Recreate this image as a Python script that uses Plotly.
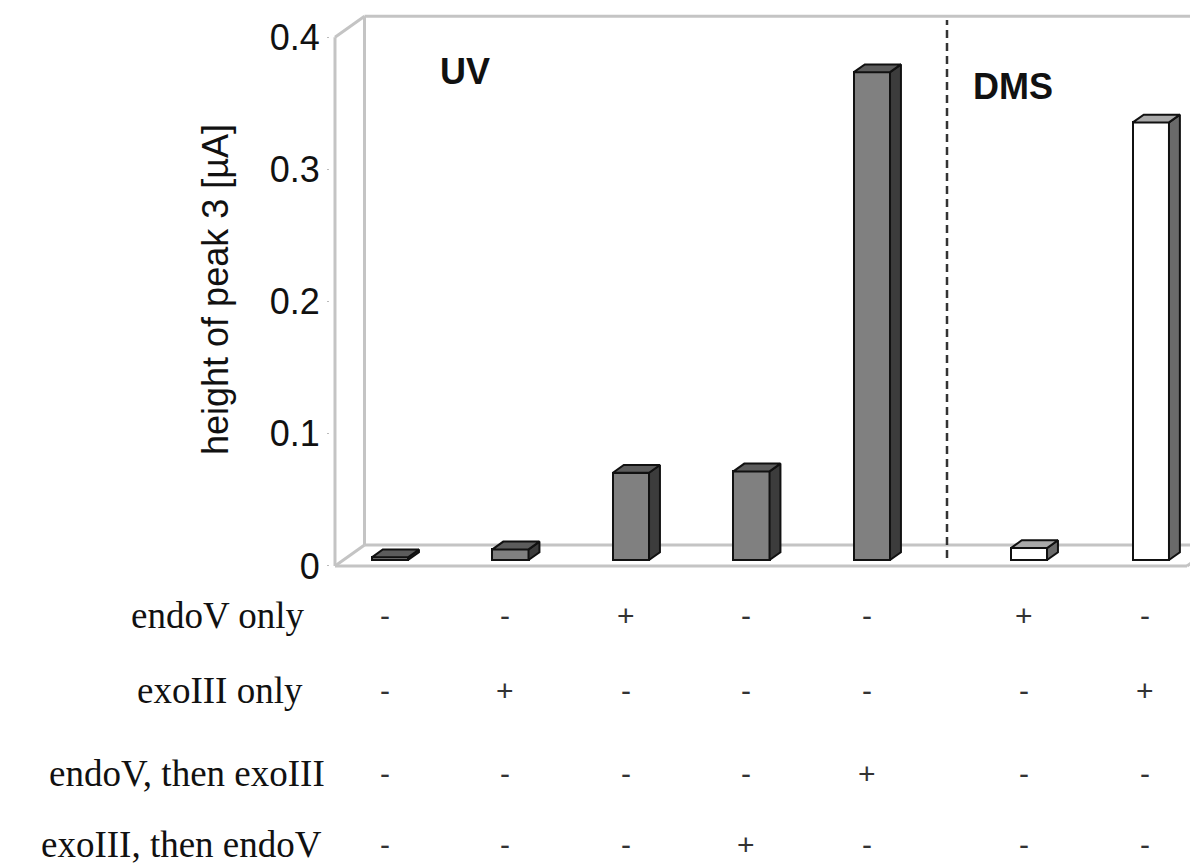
import plotly.graph_objects as go

# data
conditions = ["UV", "UV", "UV", "UV", "UV", "DMS", "DMS"]
peak_height = [0.002, 0.008, 0.066, 0.067, 0.369, 0.009, 0.331]
bar_pos = [1, 2, 3, 4, 5, 6.303, 7.315]
row_labels = ["endoV only", "exoIII only", "endoV, then exoIII", "exoIII, then endoV"]
row_marks = [
    ["-", "-", "+", "-", "-", "+", "-"],
    ["-", "+", "-", "-", "-", "-", "+"],
    ["-", "-", "-", "-", "+", "-", "-"],
    ["-", "-", "-", "+", "-", "-", "-"],
]
y_ticks = [0, 0.1, 0.2, 0.3, 0.4]

# pseudo-3d geometry (axis units)
X_LO, X_HI = 0.5726, 7.776
Y_LO, Y_HI = -0.0038, 0.4221
X_FRAME, X_FRAME_R = 0.614, 7.685
DX, DY = 0.245, 0.0159          # full depth of the box
F1, F2 = 0.286, 0.656           # front / back plane of the bars
BAR_W = 0.30
DIVIDER_X = 5.693

face = {
    "UV": dict(front="#808080", side="#3c3c3c", top="#5c5c5c"),
    "DMS": dict(front="#ffffff", side="#6a6a6a", top="#a9a9a9"),
}

fig = go.Figure()

# frame (walls)
frame_col = "#c4c4c4"
frame = [
    ((X_FRAME, 0), (X_FRAME, 0.4)),
    ((X_FRAME + DX, DY), (X_FRAME + DX, 0.4 + DY)),
    ((X_FRAME, 0.4), (X_FRAME + DX, 0.4 + DY)),
    ((X_FRAME + DX, 0.4 + DY), (X_HI + 1, 0.4 + DY)),
    ((X_FRAME, 0), (X_FRAME + DX, DY)),
    ((X_FRAME + DX, DY), (X_HI + 1, DY)),
    ((X_FRAME, 0), (X_FRAME_R, 0)),
    ((X_FRAME_R, 0), (X_FRAME_R + DX, DY)),
]
shapes = []
for (x0, y0), (x1, y1) in frame:
    shapes.append(dict(type="line", xref="x", yref="y", x0=x0, y0=y0, x1=x1, y1=y1,
                       line=dict(color=frame_col, width=3), layer="below"))

shapes.append(dict(type="line", xref="x", yref="y", x0=DIVIDER_X, x1=DIVIDER_X,
                   y0=0.006, y1=0.413, line=dict(color="#333333", width=2.5, dash="8px,5px")))

# front faces as real bars
base = F1 * DY
shift = F1 * DX
fig.add_trace(go.Bar(
    x=[p + shift for p in bar_pos],
    y=peak_height,
    base=base,
    width=BAR_W,
    marker=dict(color=[face[c]["front"] for c in conditions],
                line=dict(color="#111111", width=2)),
    hoverinfo="y",
    showlegend=False,
))

# side and top faces
d = F2 - F1
ddx, ddy = d * DX, d * DY
for p, v, c in zip(bar_pos, peak_height, conditions):
    xl = p + shift - BAR_W / 2
    xr = p + shift + BAR_W / 2
    yb = base
    yt = base + v
    fig.add_trace(go.Scatter(
        x=[xr, xr + ddx, xr + ddx, xr, xr],
        y=[yb, yb + ddy, yt + ddy, yt, yb],
        mode="lines", fill="toself", fillcolor=face[c]["side"],
        line=dict(color="#111111", width=2), hoverinfo="skip", showlegend=False,
    ))
    fig.add_trace(go.Scatter(
        x=[xl, xr, xr + ddx, xl + ddx, xl],
        y=[yt, yt, yt + ddy, yt + ddy, yt],
        mode="lines", fill="toself", fillcolor=face[c]["top"],
        line=dict(color="#111111", width=2), hoverinfo="skip", showlegend=False,
    ))

annotations = [
    dict(text="<b>UV</b>", x=1.693, y=0.3744, xref="x", yref="y", showarrow=False,
         font=dict(family="Liberation Sans, Arial", size=36, color="#111111")),
    dict(text="<b>DMS</b>", x=6.241, y=0.363, xref="x", yref="y", showarrow=False,
         font=dict(family="Liberation Sans, Arial", size=36, color="#111111")),
]

# treatment table under the chart
row_y = [-0.0782, -0.2114, -0.3588, -0.4866]
label_right = [-0.026, -0.029, -0.004, -0.007]
for label, marks, ry, xr in zip(row_labels, row_marks, row_y, label_right):
    annotations.append(dict(
        text=label, x=xr, y=ry, xref="paper", yref="paper",
        xanchor="right", yanchor="middle", showarrow=False,
        font=dict(family="Liberation Serif, Times New Roman", size=37, color="#111111"),
    ))
    for p, m in zip(bar_pos, marks):
        annotations.append(dict(
            text=m, x=p + 0.025, y=ry, xref="x", yref="paper",
            xanchor="center", yanchor="middle", showarrow=False,
            font=dict(family="Liberation Sans, Arial", size=30, color="#333333"),
        ))

fig.update_layout(
    width=1198,
    height=864,
    margin=dict(l=322, r=8, t=0, b=301, autoexpand=False),
    paper_bgcolor="white",
    plot_bgcolor="white",
    shapes=shapes,
    annotations=annotations,
    bargap=0,
)
fig.update_xaxes(range=[X_LO, X_HI], visible=False, automargin=False)
fig.update_yaxes(
    range=[Y_LO, Y_HI],
    automargin=False,
    tickvals=y_ticks,
    ticktext=[f"{t:g}" for t in y_ticks],
    ticks="outside", ticklen=2, tickcolor="#bbbbbb",
    showgrid=False, zeroline=False, showline=False,
    tickfont=dict(family="Liberation Sans, Arial", size=36, color="#111111"),
    title=dict(text="height of peak 3 [µA]", standoff=30,
               font=dict(family="Liberation Sans, Arial", size=36, color="#111111")),
)

fig.write_html("out.html")
